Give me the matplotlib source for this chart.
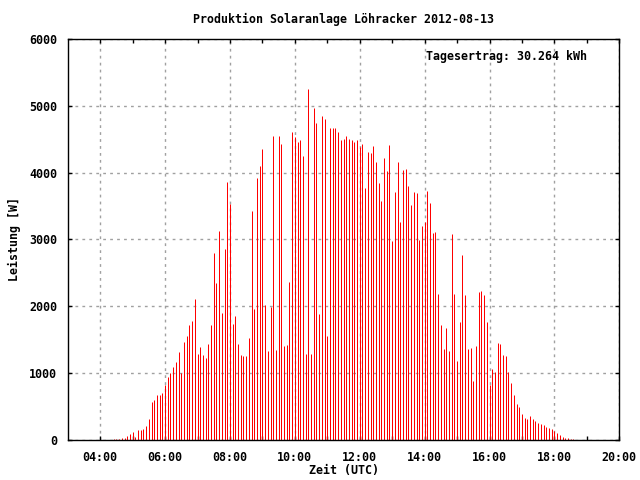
import matplotlib
matplotlib.use("Agg")
import matplotlib.pyplot as plt
import matplotlib.dates as mdates
import pandas as pd

#---- data: power in W, one value every 5 minutes from 04:25 UTC ----#
day = "2012-08-13"
start_time = "04:25"
step = "5min"
power = [
    15, 20, 25, 35, 40, 65, 90, 120, 50, 150, 150, 165, 215, 320, 570, 600, 675, 675,
    705, 825, 945, 1005, 1095, 1170, 1320, 1005, 1475,
    1560, 1725, 1785, 2115, 1290, 1395, 1275, 1230, 1440, 1725, 2805, 2355, 3120, 1905,
    2850, 3855, 3525, 1740, 1860, 1440, 1275, 1260, 1260, 1530, 3420, 1965, 3915,
    4095, 4350, 2025, 1335, 1995, 4545, 1350, 4545, 4425, 1410, 1425, 2370, 4605, 4530,
    4455, 4485, 4245, 1290, 5250, 1290, 4965, 4740, 1890, 4845, 4800, 1560, 4665, 4665,
    4665, 4605, 4485, 4500, 4545, 4500, 4485, 4455, 4485, 4380, 4425, 3765, 4305, 4290,
    4395, 4155, 3840, 3570, 4215, 4020, 4410, 2970, 3705, 4155, 3255, 4035, 4050, 3795,
    3510, 3705, 3690, 2985, 3195, 3255, 3720, 3540, 3090, 3105, 2190, 1725, 1365, 1680,
    1335, 3075, 2190, 1185, 1770, 2775, 2175, 1365, 1380, 885, 1410, 2220, 2235, 2175,
    1770, 825, 1065, 1020, 1455, 1440, 1275, 1260, 1020, 855, 675, 540, 495, 390, 330,
    315, 360, 315, 285, 255, 240, 225, 195, 180, 165, 135, 105, 75, 45, 30, 30, 15, 15,
]
times = pd.date_range(day + " " + start_time, periods=len(power), freq=step)

title = "Produktion Solaranlage Löhracker " + day
yield_text = "Tagesertrag: 30.264 kWh"

#---- style ----#
plt.rcParams.update({
    "font.family": "DejaVu Sans Mono",
    "font.weight": "bold",
    "axes.labelweight": "bold",
    "axes.titleweight": "bold",
    "font.size": 8.4,
    "axes.titlesize": 8.4,
    "axes.labelsize": 8.4,
    "axes.linewidth": 1.0,
})

fig = plt.figure(figsize=(6.4, 4.8), dpi=100)
ax = fig.add_axes([68.3 / 640, 1 - 440.3 / 480, (619.3 - 68.3) / 640, (440.3 - 38.6) / 480])

ax.vlines(times, 0, power, colors="#ff0000", linewidth=0.72)

ax.set_xlim(pd.Timestamp(day + " 03:01"), pd.Timestamp(day + " 20:00"))
ax.set_ylim(0, 6000)
ax.set_yticks(range(0, 6001, 1000))

ax.xaxis.set_major_locator(mdates.HourLocator(byhour=range(0, 24, 2)))
ax.xaxis.set_minor_locator(mdates.HourLocator(byhour=range(1, 24, 2)))
ax.xaxis.set_major_formatter(mdates.DateFormatter("%H:%M"))

ax.tick_params(axis="both", which="both", direction="in", top=True, right=True,
               length=3, width=1, pad=8)
ax.tick_params(axis="x", pad=8)

ax.grid(True, which="major", color="#a0a0a0", linestyle=(0, (2, 3)), linewidth=1.0)
ax.set_axisbelow(True)

ax.set_title(title, pad=11.5)
ax.set_xlabel("Zeit (UTC)", labelpad=0)
ax.set_ylabel("Leistung [W]", labelpad=6)

ax.text(0.941, 0.955, yield_text, transform=ax.transAxes, ha="right", va="center")

fig.savefig("out.png", dpi=100)
